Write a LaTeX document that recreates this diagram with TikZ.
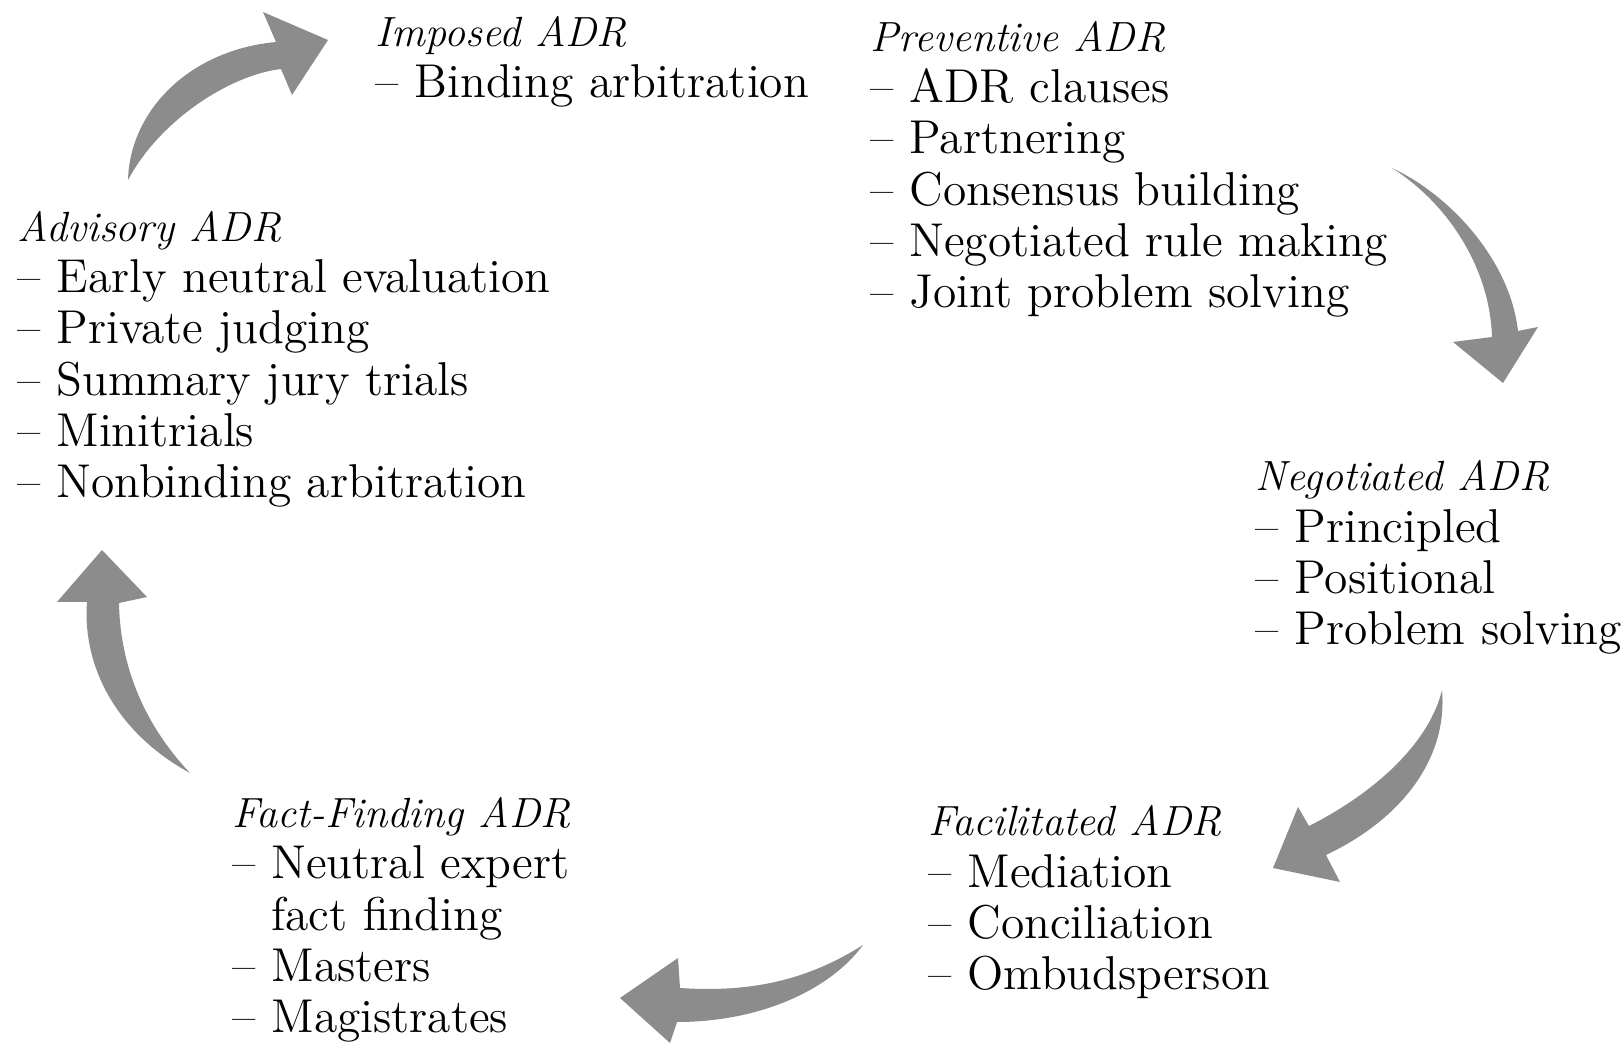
\documentclass[tikz,border=0pt]{standalone}
\usepackage{tikz}
\definecolor{arrowgray}{RGB}{140,140,140}
\newcommand{\kind}[1]{{\fontsize{12}{14.6}\selectfont\textit{#1}}}

\begin{document}
\begin{tikzpicture}[x=0.01cm,y=-0.01cm,
  group/.style={anchor=base west,align=left,inner sep=0pt,
    font=\fontsize{13.5}{14.6}\selectfont},
  cyclearrow/.style={fill=arrowgray,draw=none}]
\useasboundingbox (0,0) rectangle (1623,1046);
% the six kinds of ADR (placed at the baseline of their last line)
\node[group] (imposed) at (375,98) {\kind{Imposed ADR}\\-- Binding arbitration};
\node[group] (preventive) at (870,308) {\kind{Preventive ADR}\\-- ADR clauses\\-- Partnering\\
 -- Consensus building\\-- Negotiated rule making\\-- Joint problem solving};
\node[group] (advisory) at (17,498) {\kind{Advisory ADR}\\-- Early neutral evaluation\\
 -- Private judging\\-- Summary jury trials\\-- Minitrials\\-- Nonbinding arbitration};
\node[group] (negotiated) at (1255,645) {\kind{Negotiated ADR}\\-- Principled\\-- Positional\\
 -- Problem solving};
\node[group] (facilitated) at (928,990) {\kind{Facilitated ADR}\\-- Mediation\\-- Conciliation\\
 -- Ombudsperson};
\node[group] (factfinding) at (232,1033) {\kind{Fact-Finding ADR}\\-- Neutral expert\\
 \phantom{-- }fact finding\\-- Masters\\-- Magistrates};
% curved arrows round the cycle
\fill[cyclearrow] (128,180) .. controls (130,110) and (190,50) .. (276,42)
 -- (263,12) -- (328,40) -- (292,95) -- (281,69)
 .. controls (230,75) and (160,120) .. (128,180) -- cycle;
\fill[cyclearrow] (1392,168) .. controls (1450,195) and (1510,260) .. (1518,331)
 -- (1538,327) -- (1503,383) -- (1453,342) -- (1492,337)
 .. controls (1490,270) and (1450,205) .. (1392,168) -- cycle;
\fill[cyclearrow] (1442,690) .. controls (1448,760) and (1400,820) .. (1326,855)
 -- (1340,882) -- (1273,868) -- (1298,807) -- (1309,826)
 .. controls (1380,790) and (1430,740) .. (1442,690) -- cycle;
\fill[cyclearrow] (863,945) .. controls (800,985) and (740,992) .. (680,988)
 -- (678,958) -- (620,998) -- (670,1043) -- (677,1022)
 .. controls (760,1022) and (830,990) .. (863,945) -- cycle;
\fill[cyclearrow] (190,773) .. controls (140,720) and (120,660) .. (119,603)
 -- (147,597) -- (102,550) -- (57,602) -- (87,602)
 .. controls (82,670) and (120,735) .. (190,773) -- cycle;
\end{tikzpicture}
\end{document}
